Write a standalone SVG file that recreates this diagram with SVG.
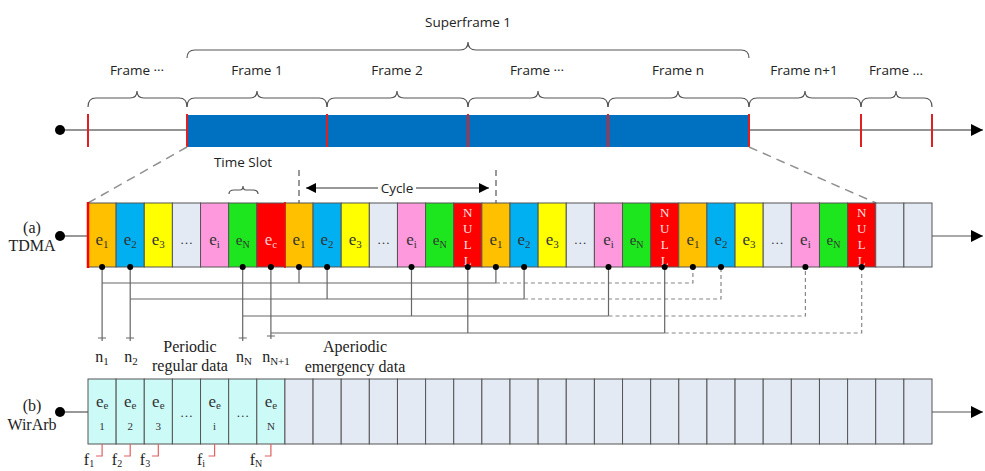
<svg xmlns="http://www.w3.org/2000/svg" width="985" height="471" viewBox="0 0 985 471">
<style>
.sans{font-family:"Open Sans","Liberation Sans",sans-serif;font-size:13.5px;fill:#222;text-anchor:middle}
.ser{font-family:"Liberation Serif","Times New Roman",serif;font-size:16px;fill:#222;text-anchor:middle}
.sl{stroke:#555;stroke-width:1}
.o{fill:#FFC000}.b{fill:#00B0F0}.y{fill:#FFFF00}.g{fill:#E4EAF4}.p{fill:#FF99DD}.n{fill:#1EE61E}.r{fill:#FF0000}.c{fill:#CCFAF7}
.et{font-family:"Liberation Serif","Times New Roman",serif;font-size:17px;fill:#333;text-anchor:middle}
.nl{font-family:"Liberation Serif","Times New Roman",serif;font-size:13px;fill:#FFE0E0;text-anchor:middle}
.brace{fill:none;stroke:#555;stroke-width:1.2}
.con{fill:none;stroke:#666;stroke-width:1.2}
.dash{fill:none;stroke:#888;stroke-width:1.2;stroke-dasharray:4,3}
.fl{fill:none;stroke:#E06060;stroke-width:1.2}
.dot{fill:#000}
</style>
<defs>
<marker id="arr" viewBox="0 0 12 12" refX="12" refY="6" markerWidth="12" markerHeight="12" markerUnits="userSpaceOnUse" orient="auto"><path d="M0,0 L12,6 L0,12 Z" fill="#000"/></marker>
<marker id="arrS" viewBox="0 0 10 10" refX="10" refY="5" markerWidth="10" markerHeight="10" markerUnits="userSpaceOnUse" orient="auto-start-reverse"><path d="M0,0 L10,5 L0,10 Z" fill="#000"/></marker>
</defs>

<!-- Top timeline -->
<g id="timeline">
<line x1="60" y1="130" x2="983" y2="130" stroke="#707070" stroke-width="1.5" marker-end="url(#arr)"/>
<circle cx="60" cy="130" r="5" class="dot"/>
<rect x="187" y="115" width="562" height="32" fill="#0070C0"/>
<g stroke="#E02020" stroke-width="2">
<line x1="88" y1="114" x2="88" y2="147"/>
<line x1="187" y1="114" x2="187" y2="147"/>
<line x1="327" y1="114" x2="327" y2="147"/>
<line x1="468" y1="114" x2="468" y2="147"/>
<line x1="608" y1="114" x2="608" y2="147"/>
<line x1="749" y1="114" x2="749" y2="147"/>
<line x1="861" y1="114" x2="861" y2="147"/>
<line x1="932" y1="114" x2="932" y2="147"/>
</g>
</g>

<g id="braces">
<path class="brace" d="M187,58 Q187,50 195,50 L460,50 Q468,50 468,42 Q468,50 476,50 L741,50 Q749,50 749,58"/>
<path class="brace" d="M88,107 Q88,98 96,98 L130,98 Q137,98 137,91 Q137,98 144,98 L179,98 Q187,98 187,107"/>
<path class="brace" d="M187,107 Q187,98 195,98 L250,98 Q257,98 257,91 Q257,98 264,98 L319,98 Q327,98 327,107"/>
<path class="brace" d="M327,107 Q327,98 335,98 L390,98 Q397,98 397,91 Q397,98 404,98 L460,98 Q468,98 468,107"/>
<path class="brace" d="M468,107 Q468,98 476,98 L531,98 Q538,98 538,91 Q538,98 545,98 L600,98 Q608,98 608,107"/>
<path class="brace" d="M608,107 Q608,98 616,98 L671,98 Q678,98 678,91 Q678,98 685,98 L741,98 Q749,98 749,107"/>
<path class="brace" d="M749,107 Q749,98 757,98 L798,98 Q805,98 805,91 Q805,98 812,98 L853,98 Q861,98 861,107"/>
<path class="brace" d="M861,107 Q861,98 869,98 L890,98 Q896,98 896,91 Q896,98 902,98 L924,98 Q932,98 932,107"/>
<path class="brace" d="M229,194 Q229,190 234,190 L240,190 Q243,190 243,186 Q243,190 246,190 L253,190 Q258,190 258,194"/>
</g>

<g id="labels-top">
<text class="sans" x="468" y="27">Superframe 1</text>
<text class="sans" x="137" y="75">Frame ···</text>
<text class="sans" x="257" y="75">Frame 1</text>
<text class="sans" x="397" y="75">Frame 2</text>
<text class="sans" x="537" y="75">Frame ···</text>
<text class="sans" x="678" y="75">Frame n</text>
<text class="sans" x="804" y="75">Frame n+1</text>
<text class="sans" x="896" y="75">Frame ...</text>
<text class="sans" x="243" y="167">Time Slot</text>
</g>

<!-- zoom dashed lines -->
<g id="zoomlines" stroke="#909090" stroke-width="1.5" stroke-dasharray="9,6" fill="none">
<line x1="187" y1="147" x2="88" y2="203"/>
<line x1="749" y1="147" x2="876" y2="203"/>
</g>

<!-- Cycle -->
<g id="cycle">
<line x1="299" y1="170" x2="299" y2="203" stroke="#555" stroke-width="1.2" stroke-dasharray="6,4"/>
<line x1="496" y1="170" x2="496" y2="203" stroke="#555" stroke-width="1.2" stroke-dasharray="6,4"/>
<line x1="378" y1="188" x2="306" y2="188" stroke="#333" stroke-width="1.2" marker-end="url(#arrS)"/>
<line x1="416" y1="188" x2="489" y2="188" stroke="#333" stroke-width="1.2" marker-end="url(#arrS)"/>
<text class="sans" x="397" y="193">Cycle</text>
</g>

<!-- TDMA row -->
<g id="tdma">
<line x1="60" y1="236" x2="88" y2="236" stroke="#555" stroke-width="1.2"/>
<circle cx="60" cy="236" r="5" class="dot"/>
<line x1="932" y1="236" x2="983" y2="236" stroke="#555" stroke-width="1.2" marker-end="url(#arr)"/>
<text class="ser" x="32" y="233">(a)</text>
<text class="ser" x="32" y="251">TDMA</text>
<g class="sl">
<rect class="o" x="88" y="203" width="28.13" height="64"/>
<rect class="b" x="116.13" y="203" width="28.13" height="64"/>
<rect class="y" x="144.27" y="203" width="28.13" height="64"/>
<rect class="g" x="172.4" y="203" width="28.13" height="64"/>
<rect class="p" x="200.53" y="203" width="28.13" height="64"/>
<rect class="n" x="228.67" y="203" width="28.13" height="64"/>
<rect class="r" x="256.8" y="203" width="28.13" height="64"/>
<rect class="o" x="284.93" y="203" width="28.13" height="64"/>
<rect class="b" x="313.07" y="203" width="28.13" height="64"/>
<rect class="y" x="341.2" y="203" width="28.13" height="64"/>
<rect class="g" x="369.33" y="203" width="28.13" height="64"/>
<rect class="p" x="397.47" y="203" width="28.13" height="64"/>
<rect class="n" x="425.6" y="203" width="28.13" height="64"/>
<rect class="r" x="453.73" y="203" width="28.13" height="64"/>
<rect class="o" x="481.87" y="203" width="28.13" height="64"/>
<rect class="b" x="510" y="203" width="28.13" height="64"/>
<rect class="y" x="538.13" y="203" width="28.13" height="64"/>
<rect class="g" x="566.27" y="203" width="28.13" height="64"/>
<rect class="p" x="594.4" y="203" width="28.13" height="64"/>
<rect class="n" x="622.53" y="203" width="28.13" height="64"/>
<rect class="r" x="650.67" y="203" width="28.13" height="64"/>
<rect class="o" x="678.8" y="203" width="28.13" height="64"/>
<rect class="b" x="706.93" y="203" width="28.13" height="64"/>
<rect class="y" x="735.07" y="203" width="28.13" height="64"/>
<rect class="g" x="763.2" y="203" width="28.13" height="64"/>
<rect class="p" x="791.33" y="203" width="28.13" height="64"/>
<rect class="n" x="819.47" y="203" width="28.13" height="64"/>
<rect class="r" x="847.6" y="203" width="28.13" height="64"/>
<rect class="g" x="875.73" y="203" width="28.13" height="64"/>
<rect class="g" x="903.87" y="203" width="28.13" height="64"/>
</g>
<line x1="88" y1="202" x2="88" y2="268" stroke="#FF0000" stroke-width="2.5"/>
<line x1="285" y1="202" x2="285" y2="268" stroke="#FF0000" stroke-width="1.5"/>
<g class="et">
<text x="102.1" y="245">e<tspan font-size="11" dy="3">1</tspan></text>
<text x="130.2" y="245">e<tspan font-size="11" dy="3">2</tspan></text>
<text x="158.3" y="245">e<tspan font-size="11" dy="3">3</tspan></text>
<text x="186.5" y="244" font-size="13">…</text>
<text x="214.6" y="245">e<tspan font-size="11" dy="3">i</tspan></text>
<text x="242.7" y="245" font-size="15">e<tspan font-size="10" dy="3">N</tspan></text>
<text x="270.9" y="245" fill="#FFD0D0">e<tspan font-size="11" dy="3">c</tspan></text>
<text x="299" y="245">e<tspan font-size="11" dy="3">1</tspan></text>
<text x="327.1" y="245">e<tspan font-size="11" dy="3">2</tspan></text>
<text x="355.3" y="245">e<tspan font-size="11" dy="3">3</tspan></text>
<text x="383.4" y="244" font-size="13">…</text>
<text x="411.5" y="245">e<tspan font-size="11" dy="3">i</tspan></text>
<text x="439.7" y="245" font-size="15">e<tspan font-size="10" dy="3">N</tspan></text>
<text x="495.9" y="245">e<tspan font-size="11" dy="3">1</tspan></text>
<text x="524.1" y="245">e<tspan font-size="11" dy="3">2</tspan></text>
<text x="552.2" y="245">e<tspan font-size="11" dy="3">3</tspan></text>
<text x="580.3" y="244" font-size="13">…</text>
<text x="608.5" y="245">e<tspan font-size="11" dy="3">i</tspan></text>
<text x="636.6" y="245" font-size="15">e<tspan font-size="10" dy="3">N</tspan></text>
<text x="692.9" y="245">e<tspan font-size="11" dy="3">1</tspan></text>
<text x="721" y="245">e<tspan font-size="11" dy="3">2</tspan></text>
<text x="749.1" y="245">e<tspan font-size="11" dy="3">3</tspan></text>
<text x="777.3" y="244" font-size="13">…</text>
<text x="805.4" y="245">e<tspan font-size="11" dy="3">i</tspan></text>
<text x="833.5" y="245" font-size="15">e<tspan font-size="10" dy="3">N</tspan></text>
</g>
<g class="nl">
<text x="467.8" y="217">N</text><text x="467.8" y="233">U</text><text x="467.8" y="249">L</text><text x="467.8" y="265">L</text>
<text x="664.7" y="217">N</text><text x="664.7" y="233">U</text><text x="664.7" y="249">L</text><text x="664.7" y="265">L</text>
<text x="861.7" y="217">N</text><text x="861.7" y="233">U</text><text x="861.7" y="249">L</text><text x="861.7" y="265">L</text>
</g>
</g>

<!-- connectors -->
<g id="connectors">
<path class="con" d="M102.1,267 V341 M98,338 H106 M102.1,283 H495.9 M299,267 V283 M495.9,267 V283"/>
<path class="dash" d="M495.9,283 H692.9 V267"/>
<path class="con" d="M130.2,267 V341 M126,338 H134 M130.2,299 H524.1 M327.1,267 V299 M524.1,267 V299"/>
<path class="dash" d="M524.1,299 H721 V267"/>
<path class="con" d="M242.7,267 V341 M238.7,338 H246.7 M242.7,316 H608.5 M411.5,267 V316 M608.5,267 V316"/>
<path class="dash" d="M608.5,316 H805.4 V267"/>
<path class="con" d="M270.9,267 V339 M266.9,336 H274.9 M270.9,333 H664.7 M467.8,267 V333 M664.7,267 V333"/>
<path class="dash" d="M664.7,333 H861.7 V267"/>
<g class="dot">
<circle cx="102.1" cy="267" r="3"/><circle cx="130.2" cy="267" r="3"/><circle cx="242.7" cy="267" r="3"/><circle cx="270.9" cy="267" r="3"/>
<circle cx="299" cy="267" r="3"/><circle cx="327.1" cy="267" r="3"/><circle cx="411.5" cy="267" r="3"/><circle cx="467.8" cy="267" r="3"/>
<circle cx="495.9" cy="267" r="3"/><circle cx="524.1" cy="267" r="3"/><circle cx="608.5" cy="267" r="3"/><circle cx="664.7" cy="267" r="3"/>
<circle cx="692.9" cy="267" r="3"/><circle cx="721" cy="267" r="3"/><circle cx="805.4" cy="267" r="3"/><circle cx="861.7" cy="267" r="3"/>
</g>
</g>

<g id="node-labels">
<text class="ser" x="102" y="362">n<tspan font-size="11" dy="3">1</tspan></text>
<text class="ser" x="131" y="362">n<tspan font-size="11" dy="3">2</tspan></text>
<text class="ser" x="244" y="362">n<tspan font-size="11" dy="3">N</tspan></text>
<text class="ser" x="276" y="362">n<tspan font-size="11" dy="3">N+1</tspan></text>
<text class="ser" x="190" y="352">Periodic</text>
<text class="ser" x="190" y="371">regular data</text>
<text class="ser" x="355" y="352">Aperiodic</text>
<text class="ser" x="355" y="372">emergency data</text>
</g>

<!-- WirArb row -->
<g id="wirarb">
<line x1="60" y1="412" x2="88" y2="412" stroke="#555" stroke-width="1.2"/>
<circle cx="60" cy="412" r="5" class="dot"/>
<line x1="932" y1="412" x2="983" y2="412" stroke="#555" stroke-width="1.2" marker-end="url(#arr)"/>
<text class="ser" x="32" y="411">(b)</text>
<text class="ser" x="32" y="430">WirArb</text>
<g class="sl">
<rect class="c" x="88" y="379" width="28.13" height="65"/>
<rect class="c" x="116.13" y="379" width="28.13" height="65"/>
<rect class="c" x="144.27" y="379" width="28.13" height="65"/>
<rect class="c" x="172.4" y="379" width="28.13" height="65"/>
<rect class="c" x="200.53" y="379" width="28.13" height="65"/>
<rect class="c" x="228.67" y="379" width="28.13" height="65"/>
<rect class="c" x="256.8" y="379" width="28.13" height="65"/>
<rect class="g" x="284.93" y="379" width="28.13" height="65"/>
<rect class="g" x="313.07" y="379" width="28.13" height="65"/>
<rect class="g" x="341.2" y="379" width="28.13" height="65"/>
<rect class="g" x="369.33" y="379" width="28.13" height="65"/>
<rect class="g" x="397.47" y="379" width="28.13" height="65"/>
<rect class="g" x="425.6" y="379" width="28.13" height="65"/>
<rect class="g" x="453.73" y="379" width="28.13" height="65"/>
<rect class="g" x="481.87" y="379" width="28.13" height="65"/>
<rect class="g" x="510" y="379" width="28.13" height="65"/>
<rect class="g" x="538.13" y="379" width="28.13" height="65"/>
<rect class="g" x="566.27" y="379" width="28.13" height="65"/>
<rect class="g" x="594.4" y="379" width="28.13" height="65"/>
<rect class="g" x="622.53" y="379" width="28.13" height="65"/>
<rect class="g" x="650.67" y="379" width="28.13" height="65"/>
<rect class="g" x="678.8" y="379" width="28.13" height="65"/>
<rect class="g" x="706.93" y="379" width="28.13" height="65"/>
<rect class="g" x="735.07" y="379" width="28.13" height="65"/>
<rect class="g" x="763.2" y="379" width="28.13" height="65"/>
<rect class="g" x="791.33" y="379" width="28.13" height="65"/>
<rect class="g" x="819.47" y="379" width="28.13" height="65"/>
<rect class="g" x="847.6" y="379" width="28.13" height="65"/>
<rect class="g" x="875.73" y="379" width="28.13" height="65"/>
<rect class="g" x="903.87" y="379" width="28.13" height="65"/>
</g>
<g class="et" font-size="16">
<text x="102.1" y="407">e<tspan font-size="11" dy="2">e</tspan></text>
<text x="130.2" y="407">e<tspan font-size="11" dy="2">e</tspan></text>
<text x="158.3" y="407">e<tspan font-size="11" dy="2">e</tspan></text>
<text x="214.6" y="407">e<tspan font-size="11" dy="2">e</tspan></text>
<text x="270.9" y="407">e<tspan font-size="11" dy="2">e</tspan></text>
<text x="186.5" y="417" font-size="13">…</text>
<text x="242.7" y="417" font-size="13">…</text>
<text x="102.1" y="430" font-size="11">1</text>
<text x="130.2" y="430" font-size="11">2</text>
<text x="158.3" y="430" font-size="11">3</text>
<text x="214.6" y="430" font-size="11">i</text>
<text x="270.9" y="430" font-size="11">N</text>
</g>
<path class="fl" d="M102.1,444 V456 H96 M130.2,444 V456 H124 M158.3,444 V456 H152 M214.6,444 V456 H208.5 M270.9,444 V456 H264.8"/>
<g class="ser" font-size="15">
<text x="89" y="465">f<tspan font-size="10" dy="2">1</tspan></text>
<text x="117" y="465">f<tspan font-size="10" dy="2">2</tspan></text>
<text x="145" y="465">f<tspan font-size="10" dy="2">3</tspan></text>
<text x="201" y="465">f<tspan font-size="10" dy="2">i</tspan></text>
<text x="256" y="465">f<tspan font-size="10" dy="2">N</tspan></text>
</g>
</g>
</svg>
